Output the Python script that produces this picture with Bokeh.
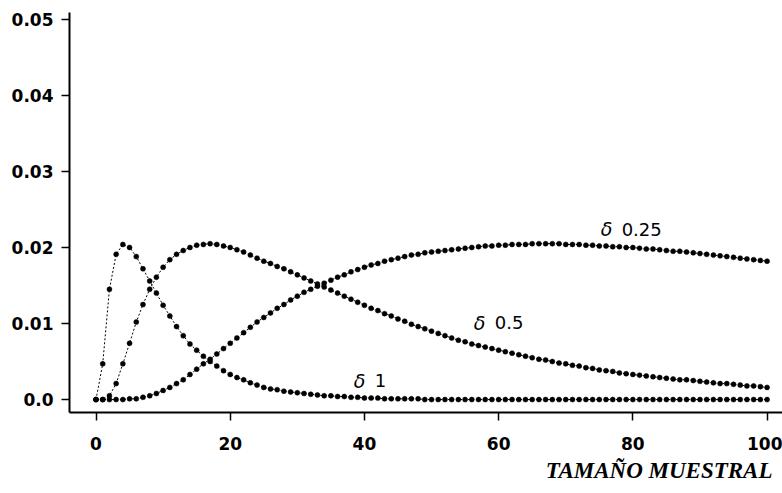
from bokeh.plotting import figure
from bokeh.models import Range1d, FixedTicker, Title
from bokeh.core.properties import value
from bokeh.embed import file_html
from bokeh.resources import INLINE

# sample size
n = list(range(0, 101))

# delta = 1
d1 = [0.0, 0.0047, 0.0145, 0.0191, 0.0204, 0.0200, 0.0188, 0.0172, 0.0156, 0.0140,
      0.0124, 0.0110, 0.0096, 0.0084, 0.0073, 0.0065, 0.0057, 0.0050, 0.0044, 0.0038,
      0.0033, 0.0029, 0.0026, 0.0022, 0.0019, 0.0016, 0.0014, 0.0013, 0.0011, 0.0010,
      0.0009, 0.0008, 0.0007, 0.0006, 0.0005, 0.0005, 0.0004, 0.0004, 0.0003, 0.0003,
      0.0002, 0.0002, 0.0002, 0.0001, 0.0001, 0.0001, 0.0001, 0.0001, 0.0001, 0.0,
      0.0, 0.0, 0.0, 0.0, 0.0, 0.0, 0.0, 0.0, 0.0, 0.0,
      0.0, 0.0, 0.0, 0.0, 0.0, 0.0, 0.0, 0.0, 0.0, 0.0,
      0.0, 0.0, 0.0, 0.0, 0.0, 0.0, 0.0, 0.0, 0.0, 0.0,
      0.0, 0.0, 0.0, 0.0, 0.0, 0.0, 0.0, 0.0, 0.0, 0.0,
      0.0, 0.0, 0.0, 0.0, 0.0, 0.0, 0.0, 0.0, 0.0, 0.0,
      0.0]

# delta = 0.5
d05 = [0.0, 0.0, 0.0005, 0.0021, 0.0047, 0.0074, 0.0102, 0.0125, 0.0145, 0.0161,
       0.0174, 0.0184, 0.0191, 0.0196, 0.0200, 0.0203, 0.0204, 0.0205, 0.0204, 0.0202,
       0.0200, 0.0197, 0.0194, 0.0190, 0.0186, 0.0182, 0.0179, 0.0175, 0.0172, 0.0168,
       0.0164, 0.0160, 0.0156, 0.0152, 0.0148, 0.0144, 0.0140, 0.0136, 0.0132, 0.0128,
       0.0124, 0.0120, 0.0117, 0.0113, 0.0110, 0.0106, 0.0103, 0.0099, 0.0096, 0.0093,
       0.0090, 0.0087, 0.0084, 0.0081, 0.0078, 0.0076, 0.0073, 0.0071, 0.0069, 0.0067,
       0.0065, 0.0063, 0.0061, 0.0059, 0.0057, 0.0055, 0.0053, 0.0052, 0.0050, 0.0048,
       0.0047, 0.0045, 0.0044, 0.0042, 0.0041, 0.0039, 0.0038, 0.0037, 0.0035, 0.0034,
       0.0033, 0.0032, 0.0031, 0.0030, 0.0029, 0.0028, 0.0027, 0.0026, 0.0026, 0.0025,
       0.0024, 0.0023, 0.0022, 0.0021, 0.0021, 0.0020, 0.0019, 0.0018, 0.0018, 0.0017,
       0.0016]

# delta = 0.25
d025 = [0.0, 0.0, 0.0, 0.0, 0.0, 0.0001, 0.0001, 0.0003, 0.0005, 0.0008,
        0.0012, 0.0016, 0.0021, 0.0026, 0.0033, 0.0040, 0.0047, 0.0053, 0.0060, 0.0067,
        0.0074, 0.0081, 0.0088, 0.0095, 0.0102, 0.0108, 0.0114, 0.0120, 0.0125, 0.0131,
        0.0136, 0.0141, 0.0145, 0.0149, 0.0153, 0.0157, 0.0161, 0.0164, 0.0168, 0.0171,
        0.0174, 0.0177, 0.0179, 0.0182, 0.0184, 0.0186, 0.0188, 0.0190, 0.0191, 0.0193,
        0.0194, 0.0195, 0.0196, 0.0197, 0.0198, 0.0199, 0.0200, 0.0201, 0.0202, 0.0202,
        0.0203, 0.0203, 0.0204, 0.0204, 0.0204, 0.0205, 0.0205, 0.0205, 0.0205, 0.0205,
        0.0204, 0.0204, 0.0204, 0.0203, 0.0203, 0.0202, 0.0202, 0.0201, 0.0201, 0.0200,
        0.0200, 0.0199, 0.0198, 0.0198, 0.0197, 0.0196, 0.0195, 0.0195, 0.0194, 0.0193,
        0.0192, 0.0191, 0.0190, 0.0189, 0.0188, 0.0187, 0.0186, 0.0185, 0.0184, 0.0183,
        0.0182]

series = [d1, d05, d025]

# curve labels: greek letter + value, anchor in data units
label_values = ["1", "0.5", "0.25"]
label_x = [38.4, 56.3, 75.2]
label_y = [0.0025, 0.0101, 0.0224]

x_ticks = [0, 20, 40, 60, 80, 100]
y_ticks = [0.0, 0.01, 0.02, 0.03, 0.04, 0.05]
y_tick_labels = ["0.0", "0.01", "0.02", "0.03", "0.04", "0.05"]
x_title = "TAMAÑO MUESTRAL"

p = figure(width=782, height=493, output_backend="svg", toolbar_location=None,
           x_range=Range1d(-3.95, 102.3), y_range=Range1d(-0.0017, 0.0509),
           min_border_left=69, min_border_right=0, min_border_top=12, min_border_bottom=81)
p.outline_line_color = None
p.xgrid.grid_line_color = None
p.ygrid.grid_line_color = None

for ys in series:
    p.line(n, ys, line_color="black", line_width=1, line_dash="2 2")
    p.scatter(n, ys, size=5, fill_color="black", line_color="black", line_width=0.5)

for lx, ly, lv in zip(label_x, label_y, label_values):
    p.text(x=[lx], y=[ly], text=["δ"], text_font=value("DejaVu Sans"),
           text_font_style="italic", text_font_size="19px", text_baseline="middle",
           text_align="left", text_color="black")
    p.text(x=[lx], y=[ly], text=[lv], text_font=value("DejaVu Sans"),
           text_font_size="18px", text_baseline="middle", text_align="left",
           text_color="black", x_offset=21)

for ax in (p.xaxis[0], p.yaxis[0]):
    ax.axis_line_width = 2
    ax.axis_line_color = "black"
    ax.major_tick_line_width = 1.5
    ax.major_tick_in = 0
    ax.major_tick_out = 8
    ax.minor_tick_line_color = None
    ax.major_label_text_font = "DejaVu Sans"
    ax.major_label_text_font_style = "bold"
    ax.major_label_text_font_size = "17px"
    ax.major_label_text_color = "black"

p.xaxis.ticker = FixedTicker(ticks=x_ticks)
p.yaxis.ticker = FixedTicker(ticks=y_ticks)
p.yaxis.major_label_overrides = {t: s for t, s in zip(y_ticks, y_tick_labels)}
p.xaxis.major_label_standoff = 16
p.yaxis.major_label_standoff = 8

t = Title(text=x_title, align="right", text_font="Liberation Serif",
          text_font_style="bold italic", text_font_size="23px", text_color="black",
          standoff=7, offset=10)
p.add_layout(t, "below")

open("out.html", "w").write(file_html(p, INLINE))
